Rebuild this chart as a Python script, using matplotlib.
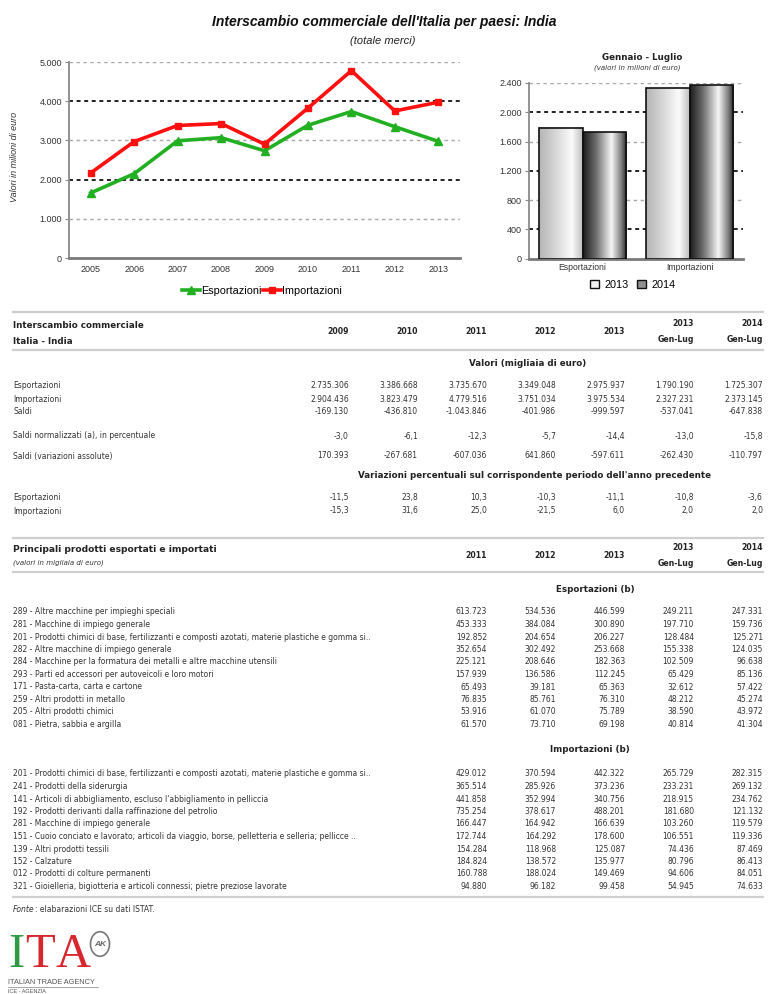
import numpy as np
import matplotlib
matplotlib.use('Agg')
import matplotlib.pyplot as plt
from matplotlib.colors import LinearSegmentedColormap
from matplotlib.lines import Line2D
from matplotlib.patches import Patch, Circle

W, H = 768, 994

# ---------------- data ----------------
years = ['2005', '2006', '2007', '2008', '2009', '2010', '2011', '2012', '2013']
exports_mln = [1660, 2150, 2990, 3070, 2735.3, 3386.7, 3735.7, 3349.0, 2975.9]
imports_mln = [2170, 2970, 3380, 3430, 2904.4, 3823.5, 4779.5, 3751.0, 3975.5]

bar_groups = ['Esportazioni', 'Importazioni']
bar_2013 = [1790.190, 2327.231]
bar_2014 = [1725.307, 2373.145]

main_cols = ['2009', '2010', '2011', '2012', '2013', '2013\nGen-Lug', '2014\nGen-Lug']
esportazioni = [2735306, 3386668, 3735670, 3349048, 2975937, 1790190, 1725307]
importazioni = [2904436, 3823479, 4779516, 3751034, 3975534, 2327231, 2373145]
saldi = [-169130, -436810, -1043846, -401986, -999597, -537041, -647838]
saldi_norm = [-3.0, -6.1, -12.3, -5.7, -14.4, -13.0, -15.8]
saldi_var = [170393, -267681, -607036, 641860, -597611, -262430, -110797]
var_esp = [-11.5, 23.8, 10.3, -10.3, -11.1, -10.8, -3.6]
var_imp = [-15.3, 31.6, 25.0, -21.5, 6.0, 2.0, 2.0]

prod_cols = ['2011', '2012', '2013', '2013\nGen-Lug', '2014\nGen-Lug']
exp_products = [
    "289 - Altre macchine per impieghi speciali",
    "281 - Macchine di impiego generale",
    "201 - Prodotti chimici di base, fertilizzanti e composti azotati, materie plastiche e gomma si..",
    "282 - Altre macchine di impiego generale",
    "284 - Macchine per la formatura dei metalli e altre macchine utensili",
    "293 - Parti ed accessori per autoveicoli e loro motori",
    "171 - Pasta-carta, carta e cartone",
    "259 - Altri prodotti in metallo",
    "205 - Altri prodotti chimici",
    "081 - Pietra, sabbia e argilla"]
exp_2011 = [613723, 453333, 192852, 352654, 225121, 157939, 65493, 76835, 53916, 61570]
exp_2012 = [534536, 384084, 204654, 302492, 208646, 136586, 39181, 85761, 61070, 73710]
exp_2013 = [446599, 300890, 206227, 253668, 182363, 112245, 65363, 76310, 75789, 69198]
exp_2013gl = [249211, 197710, 128484, 155338, 102509, 65429, 32612, 48212, 38590, 40814]
exp_2014gl = [247331, 159736, 125271, 124035, 96638, 85136, 57422, 45274, 43972, 41304]

imp_products = [
    "201 - Prodotti chimici di base, fertilizzanti e composti azotati, materie plastiche e gomma si..",
    "241 - Prodotti della siderurgia",
    "141 - Articoli di abbigliamento, escluso l'abbigliamento in pelliccia",
    "192 - Prodotti derivanti dalla raffinazione del petrolio",
    "281 - Macchine di impiego generale",
    "151 - Cuoio conciato e lavorato; articoli da viaggio, borse, pelletteria e selleria; pellicce ..",
    "139 - Altri prodotti tessili",
    "152 - Calzature",
    "012 - Prodotti di colture permanenti",
    "321 - Gioielleria, bigiotteria e articoli connessi; pietre preziose lavorate"]
imp_2011 = [429012, 365514, 441858, 735254, 166447, 172744, 154284, 184824, 160788, 94880]
imp_2012 = [370594, 285926, 352994, 378617, 164942, 164292, 118968, 138572, 188024, 96182]
imp_2013 = [442322, 373236, 340756, 488201, 166639, 178600, 125087, 135977, 149469, 99458]
imp_2013gl = [265729, 233231, 218915, 181680, 103260, 106551, 74436, 80796, 94606, 54945]
imp_2014gl = [282315, 269132, 234762, 121132, 119579, 119336, 87469, 86413, 84051, 74633]

# ---------------- helpers ----------------
def fx(x):
    return x / W

def fy(y):
    return 1 - y / H

def fmt_int(v):
    s = f"{abs(int(round(v))):,}".replace(',', '.')
    return ('-' if v < 0 else '') + s

def fmt_dec(v):
    return f"{v:.1f}".replace('.', ',')

def thousands(v, pos=None):
    return f"{int(v):,}".replace(',', '.')

CHART_FONT = ['Liberation Sans', 'DejaVu Sans']
TAB_FONT = ['DejaVu Sans']
SERIF = ['Liberation Serif', 'DejaVu Serif']
plt.rcParams['font.family'] = CHART_FONT

fig = plt.figure(figsize=(W / 100, H / 100), dpi=100)
fig.patch.set_facecolor('white')

# ---------------- titles ----------------
fig.text(fx(384), fy(22), "Interscambio commerciale dell'Italia per paesi: India",
         ha='center', va='center', fontsize=10, fontweight='bold', style='italic',
         family=['Liberation Sans Narrow', 'Liberation Sans'], color='#111111')
fig.text(fx(383), fy(41), "(totale merci)", ha='center', va='center', fontsize=8,
         style='italic', color='#222222')

LIGHT = '#a8a8a8'
DARK = '#111111'

def style_axis(ax):
    for s in ['top', 'right']:
        ax.spines[s].set_visible(False)
    ax.spines['left'].set_color('#8a8a8a')
    ax.spines['left'].set_linewidth(1.3)
    ax.spines['bottom'].set_color('#7a7a7a')
    ax.spines['bottom'].set_linewidth(2.0)
    ax.tick_params(axis='y', length=3, width=0.8, color='#8a8a8a', labelsize=6.5,
                   labelcolor='#333333', pad=2)
    ax.tick_params(axis='x', length=0, labelsize=6.5, labelcolor='#333333')
    ax.yaxis.set_major_formatter(plt.FuncFormatter(thousands))

# ---------------- left line chart ----------------
ax1 = fig.add_axes([fx(69), fy(258), fx(460 - 69), (258 - 62) / H])
xi = np.arange(len(years))
ax1.set_xlim(-0.5, len(years) - 0.5)
ax1.set_ylim(0, 5000)
ax1.set_yticks(np.arange(0, 5001, 1000))
ax1.set_xticks(xi)
ax1.set_xticklabels(years)
style_axis(ax1)
ax1.tick_params(axis='x', pad=5)
for i, t in enumerate(ax1.get_yticks()):
    if t == 0:
        continue
    dark = (i % 2 == 0)
    ax1.axhline(t, color=DARK if dark else LIGHT, lw=1.3 if dark else 1.0,
                dashes=(2.2, 2.0) if dark else (2.5, 2.5), zorder=1)
ax1.plot(xi, exports_mln, color='#22b022', lw=2.6, marker='^', ms=5.5, zorder=3,
         solid_joinstyle='round')
ax1.plot(xi, imports_mln, color='#ff1010', lw=2.6, marker='s', ms=4.8, zorder=3,
         solid_joinstyle='round')
fig.text(fx(15), fy(157), 'Valori in milioni di euro', rotation=90, ha='center',
         va='center', fontsize=6.5, style='italic', color='#333333')

leg_handles = [Line2D([], [], color='#22b022', lw=2.6, marker='^', ms=5.5),
               Line2D([], [], color='#ff1010', lw=2.6, marker='s', ms=4.8)]
fig.legend(leg_handles, ['Esportazioni', 'Importazioni'], loc='center',
           bbox_to_anchor=(fx(262), fy(291)), ncol=2, frameon=False, fontsize=7.8,
           handlelength=1.6, handletextpad=0.1, columnspacing=0.2)

# ---------------- right bar chart ----------------
ax2 = fig.add_axes([fx(529), fy(258.7), fx(743 - 529), (258.7 - 83) / H])
xb = np.arange(len(bar_groups))
ax2.set_xlim(-0.5, len(bar_groups) - 0.5)
ax2.set_ylim(0, 2400)
ax2.set_yticks(np.arange(0, 2401, 400))
ax2.set_xticks(xb)
ax2.set_xticklabels(bar_groups)
style_axis(ax2)
ax2.tick_params(axis='x', pad=3, labelsize=6.2)
for i, t in enumerate(ax2.get_yticks()):
    if t == 0:
        continue
    dark = (i % 2 == 1)
    ax2.axhline(t, color=DARK if dark else LIGHT, lw=1.3 if dark else 1.0,
                dashes=(2.2, 2.0) if dark else (2.5, 2.5), zorder=1)

bw = 0.41
b13 = ax2.bar(xb - bw / 2, bar_2013, width=bw, facecolor='none', edgecolor='#111111',
              lw=1.2, zorder=4)
b14 = ax2.bar(xb + bw / 2, bar_2014, width=bw, facecolor='none', edgecolor='#111111',
              lw=1.2, zorder=4)
cm13 = LinearSegmentedColormap.from_list('c13', [(0, '#b4b4b4'), (0.35, '#d4d4d4'),
                                                 (0.75, '#fbfbfb'), (1, '#bdbdbd')])
cm14 = LinearSegmentedColormap.from_list('c14', [(0, '#1c1c1c'), (0.3, '#6e6e6e'),
                                                 (0.65, '#f6f6f6'), (0.88, '#7a7a7a'),
                                                 (1, '#222222')])
grad = np.linspace(0, 1, 256).reshape(1, -1)
for bars, cm in ((b13, cm13), (b14, cm14)):
    for p in bars:
        x0, w, h = p.get_x(), p.get_width(), p.get_height()
        ax2.imshow(grad, extent=(x0, x0 + w, 0, h), aspect='auto', cmap=cm,
                   zorder=3, interpolation='bilinear')
ax2.set_xlim(-0.5, len(bar_groups) - 0.5)
ax2.set_ylim(0, 2400)

fig.legend([Patch(facecolor='#f0f0f0', edgecolor='#111111', lw=1.0),
            Patch(facecolor='#909090', edgecolor='#111111', lw=1.0)],
           ['2013', '2014'], loc='center', bbox_to_anchor=(fx(633), fy(285)), ncol=2,
           frameon=False, fontsize=7.8, handlelength=0.8, handleheight=0.8,
           handletextpad=0.5, columnspacing=0.8)

fig.text(fx(642), fy(57), 'Gennaio - Luglio', ha='center', va='center', fontsize=6.3,
         fontweight='bold', family=TAB_FONT, color='#222222')
fig.text(fx(637), fy(68), '(valori in milioni di euro)', ha='center', va='center',
         fontsize=5.0, style='italic', family=TAB_FONT, color='#333333')

# ---------------- table ----------------
LX = 13
RX = 763
col_x = [349, 418, 487, 556, 625, 694, 763]
prod_x = col_x[2:]
TS = 5.5
TCOL = '#333333'

def hline(y):
    fig.add_artist(Line2D([fx(LX), fx(RX)], [fy(y), fy(y)], transform=fig.transFigure,
                          color='#cfcfcf', lw=1.6))

def txt(x, y, s, ha='left', size=TS, weight='normal', style='normal', color=TCOL):
    fig.text(fx(x), fy(y), s, ha=ha, va='center', fontsize=size, fontweight=weight,
             style=style, family=TAB_FONT, color=color)

def header_cols(xs, labels, yc):
    for x, lab in zip(xs, labels):
        if '\n' in lab:
            a, b = lab.split('\n')
            txt(x, yc - 8, a, ha='right', size=5.6, weight='bold', color='#222222')
            txt(x, yc + 8, b, ha='right', size=5.6, weight='bold', color='#222222')
        else:
            txt(x, yc, lab, ha='right', size=5.6, weight='bold', color='#222222')

hline(312)
txt(LX, 325, 'Interscambio commerciale', size=6.3, weight='bold', color='#222222')
txt(LX, 341, 'Italia - India', size=6.3, weight='bold', color='#222222')
header_cols(col_x, main_cols, 332)
hline(350)

txt(528, 364, 'Valori (migliaia di euro)', ha='center', size=6.3, weight='bold',
    color='#222222')

def data_row(y, label, vals, fmt, xs):
    txt(LX, y, label)
    for x, v in zip(xs, vals):
        txt(x, y, fmt(v), ha='right')

data_row(386, 'Esportazioni', esportazioni, fmt_int, col_x)
data_row(399, 'Importazioni', importazioni, fmt_int, col_x)
data_row(412, 'Saldi', saldi, fmt_int, col_x)
data_row(436, 'Saldi normalizzati (a), in percentuale', saldi_norm, fmt_dec, col_x)
data_row(456, 'Saldi (variazioni assolute)', saldi_var, fmt_int, col_x)

txt(535, 476, "Variazioni percentuali sul corrispondente periodo dell'anno precedente",
    ha='center', size=6.3, weight='bold', color='#222222')
data_row(498, 'Esportazioni', var_esp, fmt_dec, col_x)
data_row(511, 'Importazioni', var_imp, fmt_dec, col_x)

hline(538)
txt(LX, 550, 'Principali prodotti esportati e importati', size=6.6, weight='bold',
    color='#222222')
txt(LX, 563, '(valori in migliaia di euro)', size=5.0, style='italic')
header_cols(prod_x, prod_cols, 556)
hline(572)

txt(595, 590, 'Esportazioni (b)', ha='center', size=6.3, weight='bold', color='#222222')
ROW = 12.5
for i, lab in enumerate(exp_products):
    y = 612 + i * ROW
    vals = [exp_2011[i], exp_2012[i], exp_2013[i], exp_2013gl[i], exp_2014gl[i]]
    data_row(y, lab, vals, fmt_int, prod_x)

txt(590, 750, 'Importazioni (b)', ha='center', size=6.3, weight='bold', color='#222222')
for i, lab in enumerate(imp_products):
    y = 774 + i * ROW
    vals = [imp_2011[i], imp_2012[i], imp_2013[i], imp_2013gl[i], imp_2014gl[i]]
    data_row(y, lab, vals, fmt_int, prod_x)
hline(897)

# source line
t1 = fig.text(fx(LX), fy(910), 'Fonte', ha='left', va='center', fontsize=TS,
              style='italic', family=TAB_FONT, color=TCOL)
r = fig.canvas.get_renderer()
bb = t1.get_window_extent(renderer=r)
fig.text(bb.x1 / W, fy(910), ': elabarazioni ICE su dati ISTAT.', ha='left',
         va='center', fontsize=TS, family=TAB_FONT, color=TCOL)

# logo
LOGO_BASE = 967
fig.text(fx(8), fy(LOGO_BASE), 'I', ha='left', va='baseline', fontsize=35,
         family=SERIF, color='#2e9a44')
fig.text(fx(25), fy(LOGO_BASE), 'T', ha='left', va='baseline', fontsize=35,
         family=SERIF, color='#d8262e')
fig.text(fx(56), fy(LOGO_BASE), 'A', ha='left', va='baseline', fontsize=35,
         family=SERIF, color='#d8262e')
fig.add_artist(Circle((fx(100), fy(944)), 9.5 / W, transform=fig.transFigure,
                      facecolor='white', edgecolor='#777777', lw=1.2))
fig.text(fx(100), fy(944), 'AK', ha='center', va='center', fontsize=6, style='italic',
         fontweight='bold', color='#666666')
fig.text(fx(8), fy(982.5), 'ITALIAN TRADE AGENCY', ha='left', va='center',
         fontsize=5.3, color='#555555')
fig.add_artist(Line2D([fx(8), fx(98)], [fy(986.8), fy(986.8)], transform=fig.transFigure,
                      color='#999999', lw=0.6))
fig.text(fx(8), fy(991.3), 'ICE - AGENZIA', ha='left', va='center', fontsize=4.0,
         color='#555555')

fig.savefig('out.png', dpi=100, facecolor='white')
